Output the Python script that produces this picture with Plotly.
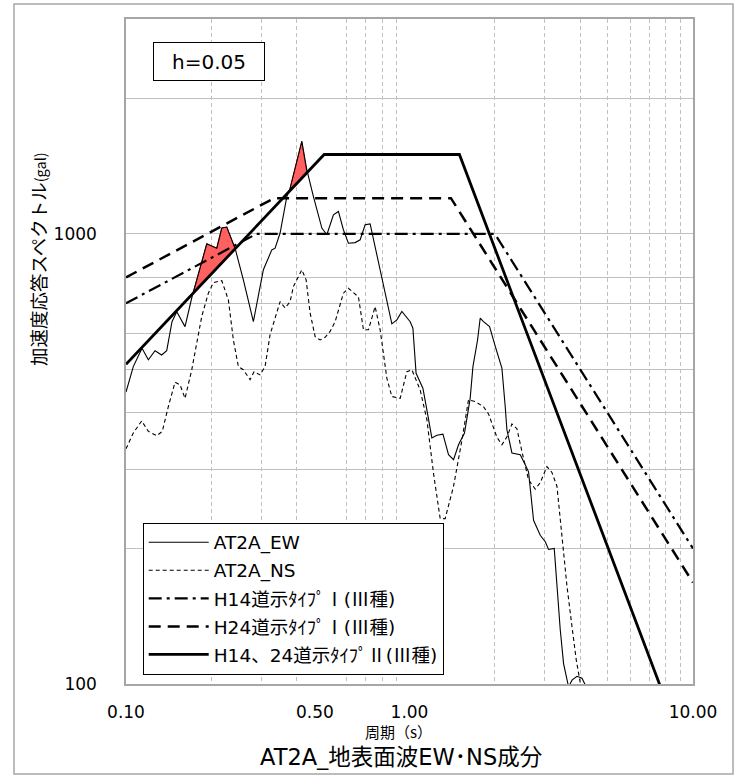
import numpy as np
import plotly.graph_objects as go

# ---------------- data (period T [s], spectral acceleration S [gal]) ----------------
ew_T = [0.100, 0.1061, 0.1139, 0.1199, 0.1266, 0.1336, 0.1392, 0.1453, 0.1510, 0.1615,
        0.1706, 0.1927, 0.2090, 0.2177, 0.2267, 0.2425, 0.2594, 0.2814, 0.3052, 0.3268,
        0.3357, 0.3496, 0.3692, 0.3792, 0.4170, 0.4344, 0.4583, 0.4907, 0.5110, 0.5391,
        0.5614, 0.5846, 0.6089, 0.6430, 0.6697, 0.6974, 0.7263, 0.7563, 0.7990, 0.8665,
        0.9025, 0.9399, 1.0055, 1.028, 1.055, 1.115, 1.152, 1.199, 1.249, 1.312,
        1.373, 1.430, 1.489, 1.563, 1.637, 1.674, 1.738, 1.776, 1.824, 1.916,
        2.007, 2.118, 2.176, 2.206, 2.298, 2.458, 2.560, 2.630, 2.739, 2.892,
        3.012, 3.094, 3.240, 3.312, 3.402, 3.495, 3.593, 3.640, 3.743, 3.897,
        4.059, 4.203, 4.5, 5.0]
ew_S = [445, 507, 557, 525, 550, 538, 550, 638, 671, 622,
        721, 950, 929, 1030, 1035, 929, 790, 638, 832, 921,
        929, 1004, 1210, 1263, 1604, 1387, 1210, 1030, 995, 1102,
        1121, 1021, 953, 956, 970, 1047, 1052, 937, 790, 631,
        644, 672, 638, 617, 490, 454, 406, 352, 357, 359,
        323, 315, 340, 361, 431, 507, 581, 650, 638, 622,
        562, 503, 413, 367, 326, 323, 307, 296, 231, 214,
        207, 199, 200, 162, 132, 111, 102, 98.5, 102, 104,
        103, 98.5, 80, 60]

ns_T = [0.100, 0.1061, 0.1136, 0.1199, 0.1284, 0.1343, 0.1410, 0.1489, 0.1551, 0.1615,
        0.1706, 0.1776, 0.1850, 0.1952, 0.2033, 0.2177, 0.2297, 0.2392, 0.2491, 0.2594,
        0.2739, 0.2830, 0.2971, 0.3094, 0.3223, 0.3496, 0.3641, 0.3792, 0.3896, 0.4170,
        0.4319, 0.4461, 0.4647, 0.4839, 0.5040, 0.5248, 0.5467, 0.5846, 0.6089, 0.6606,
        0.6880, 0.7164, 0.7563, 0.7877, 0.8319, 0.8665, 0.9271, 0.9788, 1.0195, 1.0905,
        1.152, 1.215, 1.283, 1.336, 1.430, 1.531, 1.615, 1.705, 1.824, 1.900,
        2.035, 2.118, 2.207, 2.298, 2.393, 2.493, 2.630, 2.777, 2.892, 3.053,
        3.180, 3.312, 3.402, 3.495, 3.593, 3.743, 3.875, 4.003, 4.2, 4.5]
ns_S = [333, 361, 384, 364, 356, 364, 413, 468, 462, 431,
        499, 571, 655, 738, 779, 787, 713, 581, 507, 499,
        474, 494, 486, 507, 597, 707, 684, 707, 764, 832,
        790, 667, 591, 581, 589, 607, 638, 738, 757, 724,
        612, 612, 689, 612, 478, 435, 431, 494, 499, 450,
        386, 294, 233, 233, 275, 348, 428, 424, 413, 398,
        353, 340, 354, 378, 369, 328, 284, 271, 280, 304,
        295, 275, 231, 199, 165, 134, 113, 100.5, 88, 70]

# design spectra corner points (straight lines on log-log axes)
h14_1_T = [0.10, 0.289, 2.0, 10.0]
h14_1_S = [701, 1000, 1000, 200]
h24_1_T = [0.10, 0.333, 1.4, 10.0]
h24_1_S = [800, 1200, 1200, 168]
t2_T = [0.10, 0.5, 1.5, 10.0]
t2_S = [513, 1500, 1500, 63.5]

names = ["AT2A_EW", "AT2A_NS", "H14道示ﾀｲﾌﾟⅠ(Ⅲ種)", "H24道示ﾀｲﾌﾟⅠ(Ⅲ種)", "H14、24道示ﾀｲﾌﾟⅡ(Ⅲ種)"]

x_major = [0.1, 1, 10]
x_major_text = ["0.10", "1.00", "10.00"]
x_minor = [0.2, 0.3, 0.4, 0.6, 0.7, 0.8, 0.9, 2, 3, 4, 5, 6, 7, 8, 9]
y_major = [100, 1000]
y_major_text = ["100", "1000"]
y_minor = [200, 300, 400, 500, 600, 700, 800, 2000, 3000]

# ---------------- layout geometry (pixels) ----------------
W, H = 740, 778
L, R, T, B = 126, 47, 19, 94
PW, PH = W - L - R, H - T - B


def px(xp):
    return (xp - L) / PW


def py(yp):
    return (H - B - yp) / PH


FONT = "DejaVu Sans, Noto Sans CJK JP, sans-serif"
JFONT = "Noto Sans CJK JP, DejaVu Sans, sans-serif"


def legend_label(s):
    # roman numerals / kana drawn with the CJK font, as in the original
    out = ""
    for ch in s:
        if ch in "ⅠⅡⅢﾀｲﾌﾟ道示種、":
            out += "<span style='font-family:Noto Sans CJK JP'>" + ch + "</span>"
        else:
            out += ch
    return out


fig = go.Figure()

# ---------------- red fill where EW exceeds Type II ----------------
lt2 = np.log10(t2_T)
ls2 = np.log10(t2_S)
lT = np.log10(ew_T)
lS = np.log10(ew_S)
d = lS - np.interp(lT, lt2, ls2)
segments = []
cur = None
for k in range(len(d)):
    if d[k] > 0:
        if cur is None:
            cur = []
            if k > 0:
                f = d[k - 1] / (d[k - 1] - d[k])
                cur.append(lT[k - 1] + f * (lT[k] - lT[k - 1]))
        cur.append(lT[k])
    else:
        if cur is not None:
            f = d[k - 1] / (d[k - 1] - d[k])
            cur.append(lT[k - 1] + f * (lT[k] - lT[k - 1]))
            segments.append(cur)
            cur = None
for seg in segments:
    seg = np.array(seg)
    up = np.interp(seg, lT, lS)
    up = np.maximum(up, np.interp(seg, lt2, ls2))
    lo = np.interp(seg, lt2, ls2)
    xs = np.concatenate([seg, seg[::-1], seg[:1]])
    ys = np.concatenate([up, lo[::-1], up[:1]])
    fig.add_trace(go.Scatter(x=10 ** xs, y=10 ** ys, mode="lines", fill="toself",
                             fillcolor="#ff6060", line=dict(color="#c00000", width=0.8),
                             showlegend=False, hoverinfo="skip"))

# ---------------- series ----------------
fig.add_trace(go.Scatter(x=ew_T, y=ew_S, mode="lines", name=legend_label(names[0]), legendgroup="a",
                         line=dict(color="black", width=1.1)))
fig.add_trace(go.Scatter(x=ns_T, y=ns_S, mode="lines", name=legend_label(names[1]), legendgroup="b",
                         line=dict(color="black", width=1.1, dash="4px,3px")))
fig.add_trace(go.Scatter(x=h14_1_T, y=h14_1_S, mode="lines", name=legend_label(names[2]), legendgroup="c",
                         line=dict(color="black", width=2.2, dash="13px,5px,3px,5px")))
fig.add_trace(go.Scatter(x=h24_1_T, y=h24_1_S, mode="lines", name=legend_label(names[3]), legendgroup="d",
                         line=dict(color="black", width=2.5, dash="12px,7px")))
fig.add_trace(go.Scatter(x=t2_T, y=t2_S, mode="lines", name=legend_label(names[4]), legendgroup="e",
                         line=dict(color="black", width=2.8)))

# vertical reference lines at 0.5 s and 1.0 s
shapes = []
for xv in [0.5, 1.0]:
    shapes.append(dict(type="line", xref="x", yref="paper", x0=np.log10(xv), x1=np.log10(xv),
                       y0=0, y1=1, line=dict(color="black", width=1.3), layer="between"))
# outer frame
shapes.append(dict(type="rect", xref="paper", yref="paper", x0=px(14), x1=px(733),
                   y0=py(774), y1=py(4), line=dict(color="#a6a6a6", width=1.5)))

annotations = [
    dict(text="加速度応答スペクトル<span style='font-size:14.5px'>(gal)</span>",
         xref="paper", yref="paper", x=px(38), y=py(259), textangle=-90, showarrow=False,
         font=dict(family=JFONT, size=18.5, color="black"), xanchor="center", yanchor="middle"),
    dict(text="h=0.05", xref="paper", yref="paper", x=px(209), y=py(61.7), showarrow=False,
         font=dict(family=FONT, size=20, color="black"), bordercolor="black", borderwidth=1,
         bgcolor="white", width=108, height=35, borderpad=1, xanchor="center", yanchor="middle"),
    dict(text="0.50", xref="paper", yref="paper", x=px(315), y=py(712), showarrow=False,
         font=dict(family=FONT, size=17, color="black"), xanchor="center", yanchor="middle"),
    dict(text="周期（s）", xref="paper", yref="paper", x=px(398), y=py(731), showarrow=False,
         font=dict(family=JFONT, size=15, color="black"), xanchor="center", yanchor="middle"),
    dict(text="AT2A_地表面波EW･NS成分", xref="paper", yref="paper", x=px(401), y=py(757),
         showarrow=False, font=dict(family=FONT, size=22.5, color="black"),
         xanchor="center", yanchor="middle"),
]

fig.update_layout(
    width=W, height=H,
    margin=dict(l=L, r=R, t=T, b=B, pad=0),
    paper_bgcolor="white", plot_bgcolor="white",
    font=dict(family=FONT, size=15, color="black"),
    shapes=shapes, annotations=annotations,
    showlegend=True,
    legend=dict(x=px(142.7), y=py(522.7), xanchor="left", yanchor="top",
                bgcolor="white", bordercolor="black", borderwidth=1,
                font=dict(family=FONT, size=18.5, color="black"),
                traceorder="grouped", tracegroupgap=1, itemwidth=60),
    xaxis=dict(type="log", range=[-1, 1], tickvals=x_major, ticktext=x_major_text,
               showgrid=False, zeroline=False, showline=True, linecolor="#a6a6a6",
               linewidth=1.5, mirror=True, ticks="", ticklabelstandoff=12,
               tickfont=dict(family=FONT, size=17, color="black"),
               minor=dict(tickvals=x_minor, showgrid=True, gridcolor="#c0c0c0",
                          griddash="4px,3px", gridwidth=1, ticks="")),
    yaxis=dict(type="log", range=[2, np.log10(3000)], tickvals=y_major, ticktext=y_major_text,
               showgrid=True, gridcolor="#c0c0c0", gridwidth=1, zeroline=False,
               showline=True, linecolor="#a6a6a6", linewidth=1.5, mirror=True,
               ticks="outside", ticklen=24, tickcolor="rgba(0,0,0,0)",
               tickfont=dict(family=FONT, size=17, color="black"),
               minor=dict(tickvals=y_minor, showgrid=True, gridcolor="#c0c0c0",
                          gridwidth=1, ticks="")),
)

fig.write_html("out.html")
